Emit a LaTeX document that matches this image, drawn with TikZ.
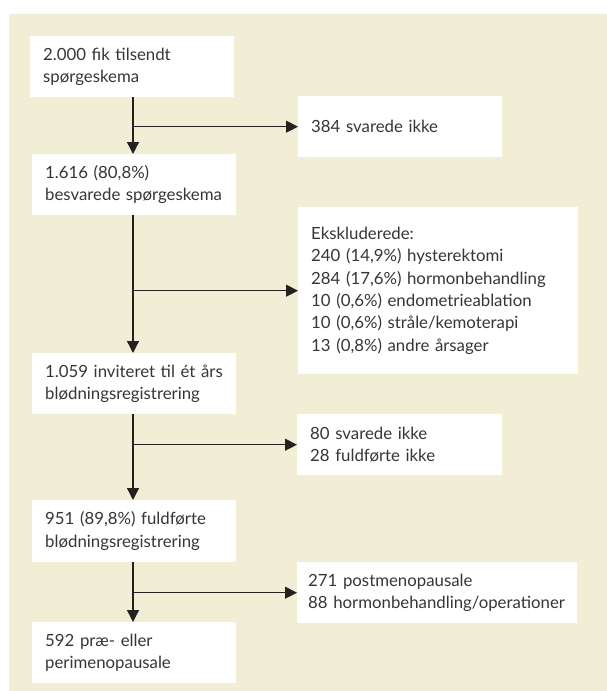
\documentclass[tikz,border=0pt]{standalone}
\usepackage{fontspec}
\setmainfont{Lato}
\usetikzlibrary{arrows.meta}
\definecolor{bgbeige}{HTML}{F2EDD5}
\definecolor{txtgray}{HTML}{363636}
\definecolor{arrowc}{HTML}{222222}
\tikzset{
  box/.style={fill=white, draw=none, anchor=north west, inner xsep=13pt, inner ysep=0pt,
    align=left, text=txtgray, font=\fontsize{16.8}{22.4}\selectfont},
  flow/.style={draw=arrowc, line width=1.3pt, -{Triangle[length=12pt,width=12pt]}},
}
\begin{document}
\begin{tikzpicture}[x=1pt,y=-1pt]
\useasboundingbox (0,0) rectangle (607,691);
\fill[bgbeige] (9,14) rectangle (607,691);
% main column
\node[box, text width=178pt, minimum height=61pt] (b1) at (30,36) {2.000 fik tilsendt\\spørgeskema};
\node[box, text width=178pt, minimum height=61pt] (b2) at (32,154) {1.616 (80,8\%)\\besvarede spørgeskema};
\node[box, text width=178pt, minimum height=61pt] (b3) at (32,353) {1.059 inviteret til ét års\\blødningsregistrering};
\node[box, text width=178pt, minimum height=62pt] (b4) at (32,500) {951 (89,8\%) fuldførte\\blødningsregistrering};
\node[box, text width=178pt, minimum height=61pt] (b5) at (32,622) {592 præ- eller\\perimenopausale};
% side boxes
\node[box, text width=178pt, minimum height=61pt] (s1) at (298,96) {384 svarede ikke};
\node[box, text width=254pt, minimum height=167pt, inner xsep=13pt] (s2) at (298,207) {Ekskluderede:\\240 (14,9\%) hysterektomi\\284 (17,6\%) hormonbehandling\\10 (0,6\%) endometrieablation\\10 (0,6\%) stråle/kemoterapi\\13 (0,8\%) andre årsager};
\node[box, text width=179pt, minimum height=61pt] (s3) at (297,414) {80 svarede ikke\\28 fuldførte ikke};
\node[box, text width=258pt, minimum height=61pt, inner xsep=11pt] (s4) at (297,562) {271 postmenopausale\\88 hormonbehandling/operationer};
% vertical arrows
\draw[flow] (b1.south -| 133,0) -- (b2.north -| 133,0);
\draw[flow] (b2.south -| 133,0) -- (b3.north -| 133,0);
\draw[flow] (b3.south -| 133,0) -- (b4.north -| 133,0);
\draw[flow] (b4.south -| 133,0) -- (b5.north -| 133,0);
% branches
\draw[flow] (s1.west -| 133,0) -- (s1.west);
\draw[flow] (s2.west -| 133,0) -- (s2.west);
\draw[flow] (s3.west -| 133,0) -- (s3.west);
\draw[flow] (s4.west -| 133,0) -- (s4.west);
\end{tikzpicture}
\end{document}
